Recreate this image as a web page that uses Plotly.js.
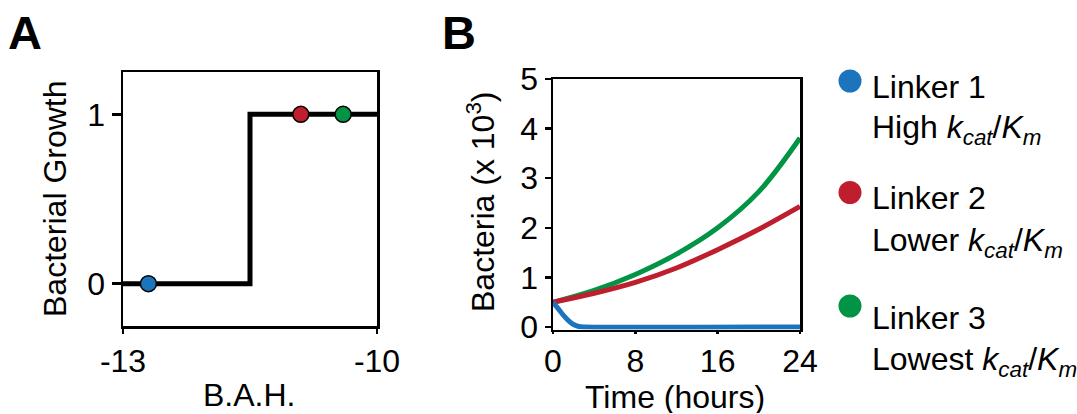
<!DOCTYPE html>
<html><head><meta charset="utf-8">
<script src="https://cdn.plot.ly/plotly-3.0.1.min.js"></script>
<style>html,body{margin:0;padding:0;background:#fff}#chart{width:1077px;height:414px}</style>
</head><body><div id="chart"></div>
<script>
const W = 1077, H = 414;

// ---- Panel A data ----
const bahX = [-13, -11.5, -10];
const growthY = [0, 1, 1];
const linkerBah = [-12.7, -10.9, -10.4];
const linkerGrowth = [0, 1, 1];
const xTickValsA = [-13, -10];
const xTickTextA = ['-13', '-10'];
const yTickValsA = [0, 1];

// ---- Panel B data ----
const timeBlue = [0, 0.5, 1, 1.5, 2, 2.5, 3, 24];
const bacteriaBlue = [0.5, 0.37, 0.24, 0.13, 0.05, 0.01, 0, 0];
const timeGrowth = [0, 4, 8, 12, 16, 20, 24];
const bacteriaRed = [0.5, 0.68, 0.90, 1.19, 1.56, 1.97, 2.43];
const bacteriaGreen = [0.5, 0.74, 1.06, 1.47, 2.0, 2.73, 3.81];
const xTickValsB = [0, 8, 16, 24];
const yTickValsB = [0, 1, 2, 3, 4, 5];

// ---- Titles & legend ----
const titleA_x = 'B.A.H.', titleA_y = 'Bacterial Growth';
const titleB_x = 'Time (hours)', titleB_y = 'Bacteria (x 10<sup>3</sup>)';
const linkerNames = ['Linker 1', 'Linker 2', 'Linker 3'];
const linkerDesc = ['High', 'Lower', 'Lowest'];
const linkerColors = ['#1c75bc', '#be1e2d', '#009444'];

const FONT = 'Liberation Sans, Arial, Helvetica, sans-serif';
const FS = 32;

const traces = [
  {x: bahX, y: growthY, xaxis: 'x', yaxis: 'y', mode: 'lines', line: {shape: 'hv', color: '#000', width: 5}, showlegend: false, hoverinfo: 'skip'},
  {x: linkerBah, y: linkerGrowth, xaxis: 'x', yaxis: 'y', mode: 'markers', cliponaxis: false,
   marker: {size: 16, color: linkerColors, line: {color: '#000', width: 1.5}}, showlegend: false},
  {x: timeGrowth, y: bacteriaGreen, xaxis: 'x2', yaxis: 'y2', mode: 'lines', line: {shape: 'spline', color: linkerColors[2], width: 5}, showlegend: false},
  {x: timeGrowth, y: bacteriaRed, xaxis: 'x2', yaxis: 'y2', mode: 'lines', line: {shape: 'spline', color: linkerColors[1], width: 5}, showlegend: false},
  {x: timeBlue, y: bacteriaBlue, xaxis: 'x2', yaxis: 'y2', mode: 'lines', line: {shape: 'spline', smoothing: 0.6, color: linkerColors[0], width: 5}, showlegend: false}
];

const axBase = {
  showgrid: false, zeroline: false, showline: true, linecolor: '#000', linewidth: 2.5,
  ticks: 'outside', tickcolor: '#000', tickwidth: 2.5, automargin: false,
  tickfont: {family: FONT, size: FS, color: '#000'}, fixedrange: true
};
const overBase = {
  showgrid: false, zeroline: false, showline: true, linecolor: '#000', linewidth: 2.5, mirror: 'ticks',
  ticks: 'outside', tickcolor: '#000', tickwidth: 2.5, ticklen: 4, showticklabels: false, automargin: false, fixedrange: true
};

const domAx = [123 / W, 377 / W];
const domAy = [1 - 326 / H, 1 - 72 / H];
const domBx = [553 / W, 800 / W];
const domBy = [1 - 329.5 / H, 1 - 79 / H];

function ann(text, px, py, opts) {
  return Object.assign({text: text, xref: 'paper', yref: 'paper', x: px / W, y: 1 - py / H,
    xanchor: 'center', yanchor: 'middle', showarrow: false, font: {family: FONT, size: FS, color: '#000'}}, opts || {});
}

const annotations = [
  ann('<b>A</b>', 6, 4, {xanchor: 'left', yanchor: 'top', font: {family: FONT, size: 47, color: '#000'}}),
  ann('<b>B</b>', 440, 4, {xanchor: 'left', yanchor: 'top', font: {family: FONT, size: 47, color: '#000'}}),
  ann(titleA_x, 249, 395),
  ann(titleA_y, 55, 199, {textangle: -90}),
  ann(titleB_x, 675, 397, {height: 32}),
  ann(titleB_y, 481, 202, {textangle: -90})
];
const line1Y = [87, 198, 318];
const line2Y = [126, 239, 358];
const circleY = [81, 192.5, 306];
const shapes = [];
for (let i = 0; i < 3; i++) {
  annotations.push(ann(linkerNames[i], 870, line1Y[i], {xanchor: 'left'}));
  annotations.push(ann(linkerDesc[i] + ' <i>k</i><sub><i>cat</i></sub>/<i>K</i><sub><i>m</i></sub>', 870, line2Y[i] + 3, {xanchor: 'left'}));
  const r = 11.5;
  shapes.push({type: 'circle', xref: 'paper', yref: 'paper',
    x0: (850 - r) / W, x1: (850 + r) / W, y0: 1 - (circleY[i] + r) / H, y1: 1 - (circleY[i] - r) / H,
    fillcolor: linkerColors[i], line: {width: 0}});
}

const layout = {
  width: W, height: H, margin: {l: 0, r: 0, t: 0, b: 0},
  paper_bgcolor: '#fff', plot_bgcolor: 'rgba(0,0,0,0)',
  font: {family: FONT, size: FS, color: '#000'},
  showlegend: false,
  xaxis: Object.assign({}, axBase, {domain: domAx, anchor: 'y', range: [-13, -10], tickvals: xTickValsA, ticktext: xTickTextA, ticklen: 5, mirror: true}),
  yaxis: Object.assign({}, axBase, {domain: domAy, anchor: 'x', range: [-0.25, 1.25], tickvals: yTickValsA, ticklen: 9, mirror: true}),
  xaxis3: Object.assign({}, overBase, {overlaying: 'x', anchor: 'y', side: 'top', range: [-13, -10], tickvals: xTickValsA}),
  yaxis3: Object.assign({}, overBase, {overlaying: 'y', anchor: 'x', side: 'right', range: [-0.25, 1.25], tickvals: [-0.25, 1.25]}),
  xaxis2: Object.assign({}, axBase, {domain: domBx, anchor: 'y2', range: [0, 24], tickvals: xTickValsB, ticklen: 2, mirror: true}),
  yaxis2: Object.assign({}, axBase, {domain: domBy, anchor: 'x2', range: [-0.05, 5], tickvals: yTickValsB, ticklen: 6, mirror: true}),
  xaxis4: Object.assign({}, overBase, {overlaying: 'x2', anchor: 'y2', side: 'top', range: [0, 24], tickvals: [0, 24]}),
  yaxis4: Object.assign({}, overBase, {overlaying: 'y2', anchor: 'x2', side: 'right', range: [-0.05, 5], tickvals: [-0.05, 5]}),
  annotations: annotations,
  shapes: shapes
};

Plotly.newPlot('chart', traces, layout, {staticPlot: true, displayModeBar: false});
</script>
</body></html>
